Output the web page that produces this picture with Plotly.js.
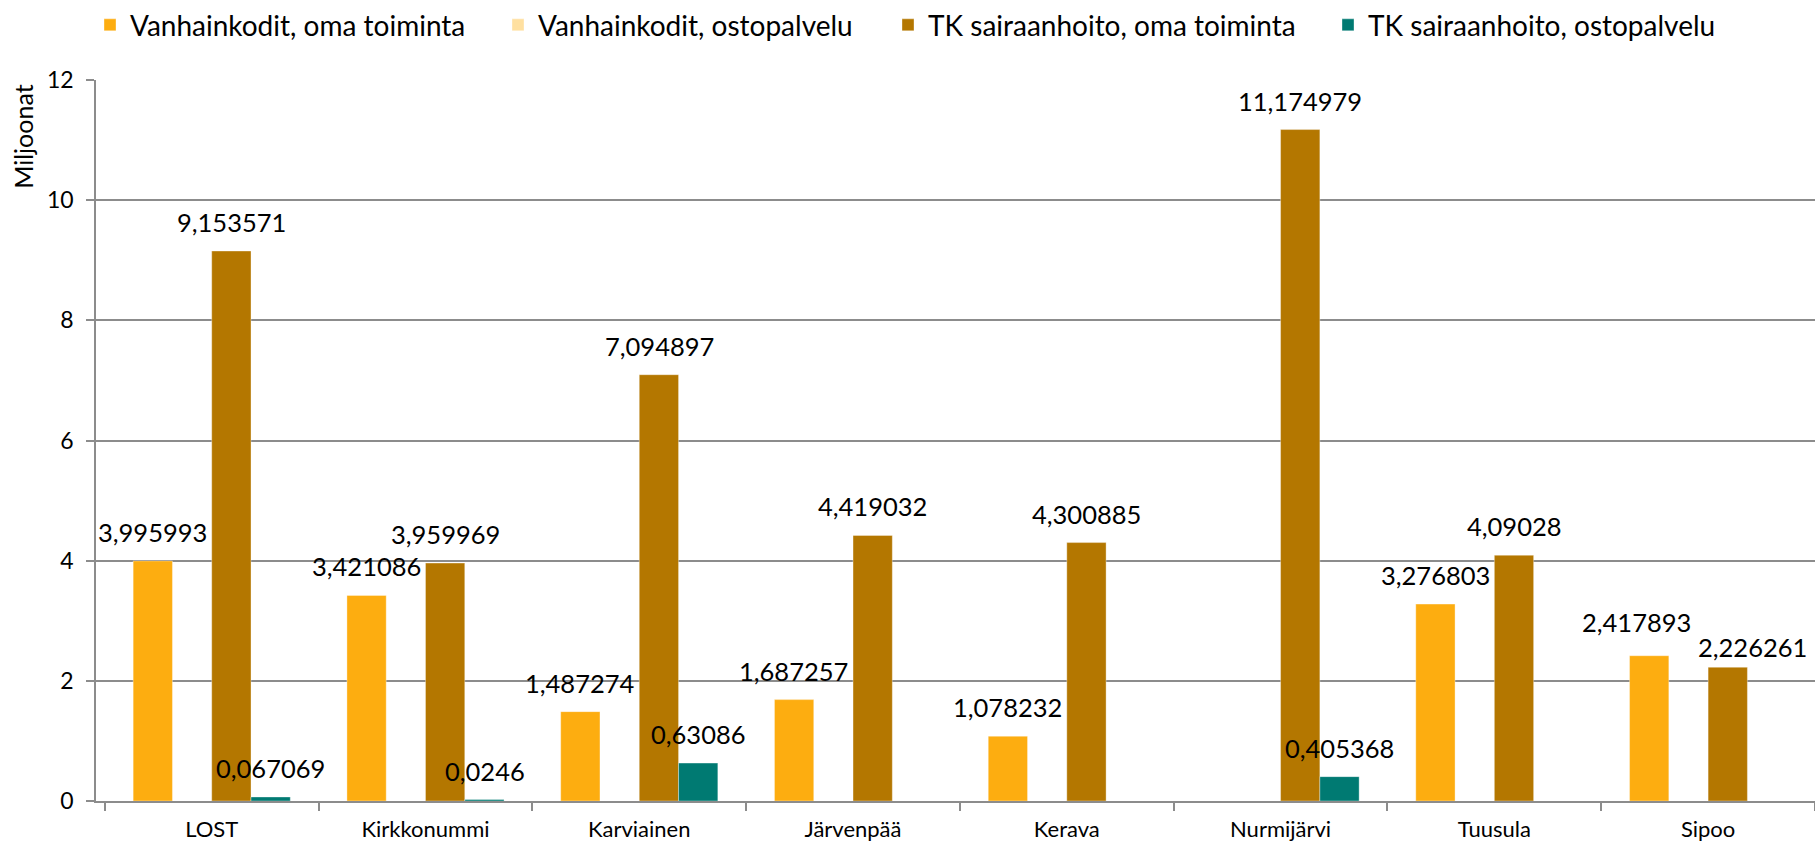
<!DOCTYPE html>
<html>
<head>
<meta charset="utf-8">
<script src="https://cdn.plot.ly/plotly-3.0.1.min.js"></script>
<style>
  html, body { margin: 0; padding: 0; background: #ffffff; }
  #chart { width: 1815px; height: 843px; }
</style>
</head>
<body>
<div id="chart"></div>
<script>
// ---- Data ----
const categories = ["LOST", "Kirkkonummi", "Karviainen", "Järvenpää", "Kerava", "Nurmijärvi", "Tuusula", "Sipoo"];
const seriesNames = ["Vanhainkodit, oma toiminta", "Vanhainkodit, ostopalvelu", "TK sairaanhoito, oma toiminta", "TK sairaanhoito, ostopalvelu"];
const vanhainkoditOma  = [3.995993, 3.421086, 1.487274, 1.687257, 1.078232, null, 3.276803, 2.417893];
const vanhainkoditOsto = [null, null, null, null, null, null, null, null];
const tkOma            = [9.153571, 3.959969, 7.094897, 4.419032, 4.300885, 11.174979, 4.09028, 2.226261];
const tkOsto           = [0.067069, 0.0246, 0.63086, null, null, 0.405368, null, null];
const yTickVals = [0, 2, 4, 6, 8, 10, 12];
const yTitle = "Miljoonat";

// ---- Style ----
const colors = ["#FDAD10", "#FFE0A0", "#B47700", "#007A72"];
const fontFamily = "Lato, 'Open Sans', sans-serif";
const W = 1815, H = 843;
const margin = { l: 96, r: 0, t: 78, b: 42 };
const plotW = W - margin.l - margin.r;
const plotH = H - margin.t - margin.b;
const bargap = 0.265;
const catW = plotW / categories.length;
const slotW = catW * (1 - bargap) / 4;
const slotOffsets = [-1.5, -0.5, 0.5, 1.5].map(k => k * slotW);

// manual label nudges (series index, category index) -> [dx, dy] in px, as placed in the original
const labelNudges = { "0,7": [-12, 5], "2,7": [25, -9] };

// legend text start positions (px) for each item
const legendTextX = [130, 538, 928, 1368];
const legendCenterY = 23;

const allSeries = [vanhainkoditOma, vanhainkoditOsto, tkOma, tkOsto];
const legendIds = ["legend", "legend2", "legend3", "legend4"];

const traces = allSeries.map((vals, s) => ({
  type: "bar",
  name: seriesNames[s],
  x: categories,
  y: vals,
  marker: { color: colors[s], line: { width: 1, color: "rgba(255,255,255,0.35)" } },
  legend: legendIds[s],
  showlegend: true,
  hoverinfo: "x+y+name"
}));

function fmt(v) { return String(v).replace(".", ","); }

const annotations = [];
allSeries.forEach((vals, s) => {
  vals.forEach((v, i) => {
    if (v === null || v === undefined) return;
    const n = labelNudges[s + "," + i] || [0, 0];
    annotations.push({
      x: categories[i], y: v, xref: "x", yref: "y",
      text: fmt(v), showarrow: false,
      xshift: slotOffsets[s] + n[0], yshift: 12 + n[1],
      xanchor: "center", yanchor: "bottom",
      font: { family: fontFamily, size: 25.5, color: "#000000" }
    });
  });
});

annotations.push({
  text: yTitle, xref: "paper", yref: "paper",
  x: (23 - margin.l) / plotW, y: (H - margin.b - 135) / plotH,
  xanchor: "center", yanchor: "middle", showarrow: false, textangle: -90,
  font: { family: fontFamily, size: 25, color: "#000000" }
});

const layout = {
  width: W, height: H,
  margin: margin,
  paper_bgcolor: "#ffffff",
  plot_bgcolor: "#ffffff",
  showlegend: true,
  barmode: "group",
  bargap: bargap,
  bargroupgap: 0,
  separators: ", ",
  font: { family: fontFamily, color: "#000000" },
  xaxis: {
    type: "category",
    tickson: "boundaries",
    ticks: "outside", ticklen: 8, tickcolor: "#8c8c8c", tickwidth: 1.5,
    showline: true, linecolor: "#8c8c8c", linewidth: 1.5,
    showgrid: false, zeroline: false,
    ticklabelstandoff: 8,
    tickfont: { family: fontFamily, size: 22, color: "#000000" }
  },
  yaxis: {
    range: [0, 12],
    tickvals: yTickVals,
    ticks: "outside", ticklen: 8, tickcolor: "#8c8c8c", tickwidth: 1.5,
    showline: true, linecolor: "#8c8c8c", linewidth: 1.5,
    showgrid: true, gridcolor: "#8c8c8c", gridwidth: 1.5,
    zeroline: false,
    ticklabelstandoff: 8,
    tickfont: { family: fontFamily, size: 23, color: "#000000" }
  },
  annotations: annotations,
  hovermode: "closest"
};

legendIds.forEach((id, s) => {
  layout[id] = {
    x: (legendTextX[s] - 40 - margin.l) / plotW,
    y: (H - margin.b - legendCenterY) / plotH,
    xanchor: "left", yanchor: "middle",
    orientation: "h",
    bgcolor: "rgba(0,0,0,0)",
    borderwidth: 0,
    font: { family: fontFamily, size: 28, color: "#000000" }
  };
});

Plotly.newPlot("chart", traces, layout, { displayModeBar: false, staticPlot: false });
</script>
</body>
</html>
